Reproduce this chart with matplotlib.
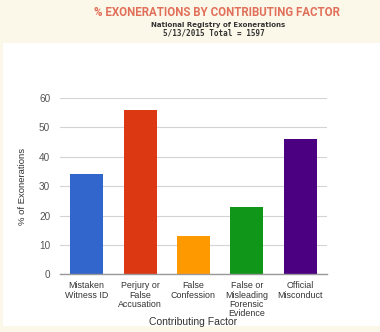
import matplotlib
matplotlib.use("Agg")
import matplotlib.pyplot as plt
from matplotlib.patches import Rectangle

plt.rcParams["font.family"] = ["Liberation Sans", "DejaVu Sans"]

categories = ["Mistaken\nWitness ID", "Perjury or\nFalse\nAccusation", "False\nConfession",
              "False or\nMisleading\nForensic\nEvidence", "Official\nMisconduct"]
values = [34, 56, 13, 23, 46]
colors = ["#3366cc", "#dc3912", "#ff9900", "#109618", "#4b0082"]
yticks = [0, 10, 20, 30, 40, 50, 60]

W, H = 380, 332
fig = plt.figure(figsize=(W / 100, H / 100), dpi=100)
fig.patch.set_facecolor("#fcf8e9")
# white panel
fig.patches.append(Rectangle((3 / W, 1 - 326 / H), 1, (326 - 43) / H,
                             transform=fig.transFigure, facecolor="white",
                             edgecolor="none", zorder=-10))

ax = fig.add_axes([60 / W, 1 - 274.3 / H, (327 - 60) / W, (274.3 - 98) / H])
ax.set_facecolor("none")
x = list(range(len(categories)))
ax.bar(x, values, width=0.62, color=colors, zorder=3)
ax.set_xlim(-0.5, len(categories) - 0.5)
ax.set_ylim(0, 60)
ax.set_yticks(yticks)
ax.set_yticklabels([str(t) for t in yticks], fontsize=7.2, color="#555555")
ax.set_xticks(x)
ax.set_xticklabels(categories, fontsize=6.4, color="#333333", linespacing=1.05,
                   va="top")
ax.tick_params(axis="both", length=0)
ax.tick_params(axis="y", pad=7)
ax.tick_params(axis="x", pad=5)
ax.grid(axis="y", color="#d4d4d4", linewidth=0.8, zorder=0)
for s in ["top", "right", "left"]:
    ax.spines[s].set_visible(False)
ax.spines["bottom"].set_color("#999999")
ax.spines["bottom"].set_linewidth(1.0)
ax.spines["bottom"].set_zorder(4)

fig.text(23 / W, 1 - 186 / H, "% of Exonerations", rotation=90, ha="center",
         va="center", fontsize=6.8, color="#333333")
fig.text(193.5 / W, 1 - 322 / H, "Contributing Factor", ha="center",
         va="center", fontsize=7.5, color="#333333")

fig.text(217 / W, 1 - 12 / H, "% EXONERATIONS BY CONTRIBUTING FACTOR",
         ha="center", va="center", fontsize=8.3, fontweight="bold",
         color="#e0705a", family=["Roboto", "DejaVu Sans"])
fig.text(218 / W, 1 - 24.5 / H, "National Registry of Exonerations",
         ha="center", va="center", fontsize=5, fontweight="bold", color="#333333",
         family=["DejaVu Sans"])
fig.text(214 / W, 1 - 33.5 / H, "5/13/2015 Total = 1597",
         ha="center", va="center", fontsize=5.5, fontweight="bold", color="#333333",
         family=["DejaVu Sans Mono", "DejaVu Sans"])

fig.savefig("out.png", dpi=100, facecolor=fig.get_facecolor())
